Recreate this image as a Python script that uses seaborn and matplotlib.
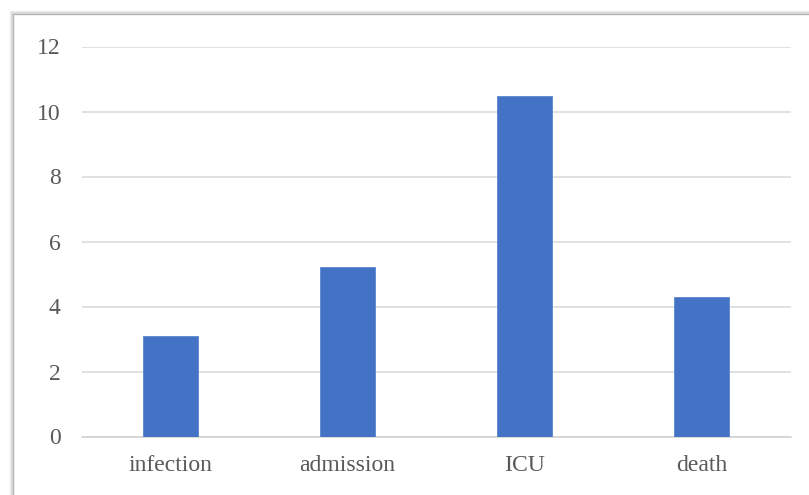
import matplotlib
matplotlib.use("Agg")
import matplotlib.pyplot as plt
import seaborn as sns
import pandas as pd
from matplotlib.lines import Line2D

categories = ["infection", "admission", "ICU", "death"]
values = [3.1, 5.21, 10.48, 4.3]
y_ticks = [0, 2, 4, 6, 8, 10, 12]

df = pd.DataFrame({"category": categories, "value": values})

sns.set_theme(style="white")
plt.rcParams["font.family"] = ["Liberation Serif", "DejaVu Serif"]

fig = plt.figure(figsize=(8.09, 4.95), dpi=100)
ax = fig.add_axes([81.5 / 809, 58.5 / 495, 709 / 809, 390 / 495])

sns.barplot(data=df, x="category", y="value", color="#4472C4", width=0.31,
            saturation=1, ax=ax, edgecolor="#5b84cf", linewidth=0.6, zorder=3)

ax.set_ylim(0, 12)
ax.set_xlim(-0.5, len(categories) - 0.5)
ax.set_yticks(y_ticks)
ax.set_yticklabels([str(t) for t in y_ticks])
ax.yaxis.grid(True, color="#d9d9d9", linewidth=1.1, zorder=0)
ax.set_axisbelow(True)
for s in ["top", "right", "left"]:
    ax.spines[s].set_visible(False)
ax.spines["bottom"].set_visible(True)
ax.spines["bottom"].set_color("#d0d0d0")
ax.spines["bottom"].set_linewidth(1.1)
ax.set_xlabel("")
ax.set_ylabel("")
ax.tick_params(axis="y", length=0, pad=15, labelsize=17, labelcolor="#595959")
ax.tick_params(axis="x", length=0, pad=13, labelsize=17, labelcolor="#595959")

# outer frame with soft shadow (left and top edges)
W, H = 809, 495
for off, col, lw in [(2.5, "#f0f0f0", 2.5), (1.2, "#dcdcdc", 1.6), (0, "#b5b5b5", 1.0)]:
    x = (13 - off) / W
    y = 1 - (14 - off) / H
    fig.add_artist(Line2D([x, x], [0, y], transform=fig.transFigure, color=col, lw=lw))
    fig.add_artist(Line2D([x, 1], [y, y], transform=fig.transFigure, color=col, lw=lw))

fig.savefig("out.png", dpi=100, facecolor="white")
